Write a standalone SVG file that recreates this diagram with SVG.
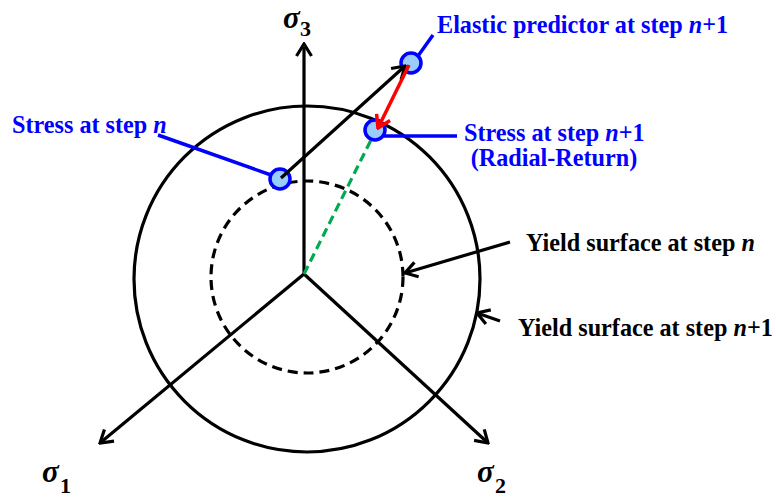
<svg xmlns="http://www.w3.org/2000/svg" width="776" height="498" viewBox="0 0 776 498">
<defs>
<style>
.ln{fill:none;stroke:#000;stroke-width:3.2;stroke-linecap:butt}
.lbl{font-family:"Liberation Serif","Times New Roman",serif;font-weight:bold;font-size:24.2px}
.blue{fill:#0000ff}
.blk{fill:#000}
.sig{font-family:"Liberation Serif","Times New Roman",serif;font-weight:bold;font-style:italic;font-size:31px;fill:#000}
.sub{font-family:"Liberation Serif","Times New Roman",serif;font-weight:bold;font-size:22px;fill:#000}
.pt{fill:#99ccff;stroke:#0000ff;stroke-width:3.5}
.lead{stroke:#0000ff;stroke-width:3.5;fill:none}
</style>
<marker id="ah" viewBox="-14 -9 16 18" refX="0" refY="0" markerWidth="16" markerHeight="18" markerUnits="userSpaceOnUse" orient="auto">
<path d="M-12,-7.5 L0,0 L-12,7.5" fill="none" stroke="#000" stroke-width="3.2" stroke-linejoin="miter"/>
</marker>
<marker id="ahr" viewBox="-14 -9 16 18" refX="0" refY="0" markerWidth="16" markerHeight="18" markerUnits="userSpaceOnUse" orient="auto">
<path d="M-12,-7.5 L0,0 L-12,7.5" fill="none" stroke="#ff0000" stroke-width="3.5"/>
</marker>
</defs>
<rect width="776" height="498" fill="#fff"/>

<g id="yield-surface-n1">
<circle cx="307" cy="279" r="173" class="ln"/>
</g>
<g id="yield-surface-n">
<circle cx="307" cy="277" r="96" class="ln" stroke-dasharray="10,6"/>
</g>

<g id="connectors">
<line x1="304" y1="274" x2="304" y2="44" class="ln" marker-end="url(#ah)"/>
<line x1="304" y1="274" x2="100" y2="443" class="ln" marker-end="url(#ah)"/>
<line x1="304" y1="274" x2="488" y2="443" class="ln" marker-end="url(#ah)"/>
<line x1="304" y1="274" x2="371" y2="140" stroke="#00aa50" stroke-width="3.2" stroke-dasharray="9,5"/>
<line x1="158" y1="135" x2="271" y2="175" class="lead"/>
<line x1="433" y1="35" x2="418" y2="56" class="lead"/>
<line x1="384" y1="136" x2="457" y2="136" class="lead"/>
<line x1="510" y1="242" x2="405" y2="273" class="ln" marker-end="url(#ah)"/>
<line x1="500" y1="321" x2="477" y2="313" class="ln" marker-end="url(#ah)"/>
</g>

<g id="stress-n">
<circle cx="280" cy="179" r="10" class="pt"/>
<text x="12" y="133" class="lbl blue">Stress at step <tspan font-style="italic">n</tspan></text>
</g>
<g id="elastic-predictor">
<circle cx="411" cy="63" r="10" class="pt"/>
<text x="437" y="33" class="lbl blue">Elastic predictor at step <tspan font-style="italic">n</tspan>+1</text>
</g>
<g id="stress-n1">
<circle cx="375" cy="130" r="10" class="pt"/>
<text x="464" y="141" class="lbl blue">Stress at step <tspan font-style="italic">n</tspan>+1</text>
<text x="554" y="166" class="lbl blue" text-anchor="middle">(Radial-Return)</text>
</g>

<g id="arrows-top">
<line x1="281" y1="178" x2="405" y2="66" class="ln" marker-end="url(#ah)"/>
<line x1="409" y1="65" x2="378" y2="128" stroke="#ff0000" stroke-width="3.5" marker-end="url(#ahr)"/>
</g>

<g id="label-yield-n">
<text x="526" y="251" class="lbl blk">Yield surface at step <tspan font-style="italic">n</tspan></text>
</g>
<g id="label-yield-n1">
<text x="518" y="336" class="lbl blk">Yield surface at step <tspan font-style="italic">n</tspan>+1</text>
</g>

<g id="axis-labels">
<text x="283" y="28" class="sig">σ</text><text x="300" y="36" class="sub">3</text>
<text x="42" y="482" class="sig">σ</text><text x="60" y="493" class="sub">1</text>
<text x="477" y="482" class="sig">σ</text><text x="495" y="493" class="sub">2</text>
</g>
</svg>
